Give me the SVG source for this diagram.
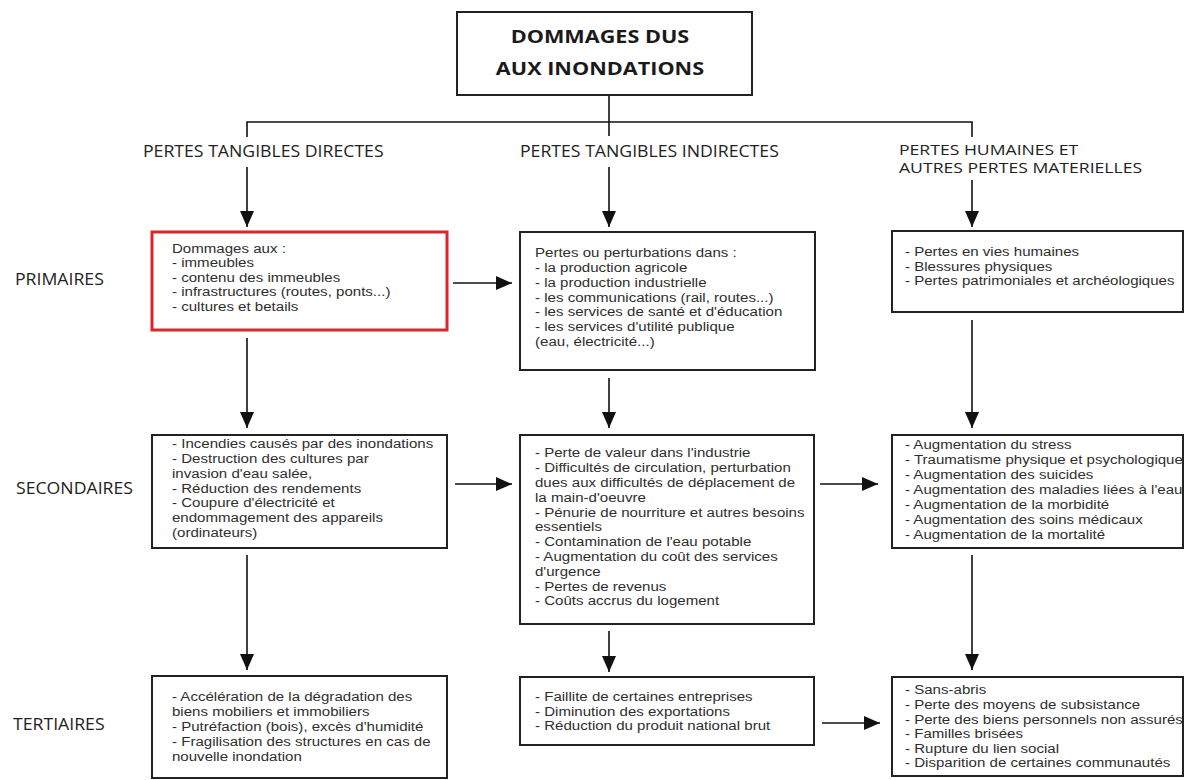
<svg xmlns="http://www.w3.org/2000/svg" width="1187" height="780" viewBox="0 0 1187 780">
<defs>
<style>
.box{fill:#fff;stroke:#222;stroke-width:2}
.red{fill:#fff;stroke:#d8282a;stroke-width:3}
.t{font-family:"Liberation Sans",Arial,sans-serif;font-size:13.1px;fill:#2e2e2e}
.h{font-family:"Open Sans","DejaVu Sans",sans-serif;font-size:15.5px;fill:#222}
.h2{font-family:"Open Sans","DejaVu Sans",sans-serif;font-size:14.8px;fill:#222}
.title{font-family:"Open Sans","DejaVu Sans",sans-serif;font-size:18.5px;font-weight:bold;fill:#1a1a1a}
.c{fill:none;stroke:#111;stroke-width:1.6}
</style>
<marker id="ah" markerUnits="userSpaceOnUse" markerWidth="16" markerHeight="14" refX="16" refY="7" orient="auto">
<path d="M0,0 L16,7 L0,14 z" fill="#111"/>
</marker>
</defs>
<rect width="1187" height="780" fill="#fff"/>

<g id="connectors">
<path class="c" d="M609,95 V136"/>
<path class="c" d="M247,137 V122 H972 V137"/>
<path class="c" d="M247,167 V227" marker-end="url(#ah)"/>
<path class="c" d="M609,167 V227" marker-end="url(#ah)"/>
<path class="c" d="M972,180 V227" marker-end="url(#ah)"/>
<path class="c" d="M453,283 H512" marker-end="url(#ah)"/>
<path class="c" d="M247,338 V428" marker-end="url(#ah)"/>
<path class="c" d="M609,378 V428" marker-end="url(#ah)"/>
<path class="c" d="M972,320 V428" marker-end="url(#ah)"/>
<path class="c" d="M455,484 H512" marker-end="url(#ah)"/>
<path class="c" d="M820,484 H878" marker-end="url(#ah)"/>
<path class="c" d="M247,555 V670" marker-end="url(#ah)"/>
<path class="c" d="M609,631 V672" marker-end="url(#ah)"/>
<path class="c" d="M972,555 V670" marker-end="url(#ah)"/>
<path class="c" d="M822,723 H880" marker-end="url(#ah)"/>
</g>

<g id="title">
<rect class="box" x="457" y="12" width="295" height="83"/>
<g transform="translate(600,0) scale(1.17,1)">
<text class="title" x="0" y="43" text-anchor="middle">DOMMAGES DUS</text>
<text class="title" x="0" y="75.5" text-anchor="middle">AUX INONDATIONS</text>
</g>
</g>

<g id="headers">
<g transform="translate(143,0) scale(1.14,1)"><text class="h" x="0" y="157">PERTES TANGIBLES DIRECTES</text></g>
<g transform="translate(520,0) scale(1.14,1)"><text class="h" x="0" y="157">PERTES TANGIBLES INDIRECTES</text></g>
<g transform="translate(899,0) scale(1.19,1)"><text class="h2" y="155.5"><tspan x="0">PERTES HUMAINES ET</tspan><tspan x="0" dy="18">AUTRES PERTES MATERIELLES</tspan></text></g>
</g>

<g id="row-labels">
<g transform="translate(15,0) scale(1.14,1)"><text class="h" x="0" y="285.5">PRIMAIRES</text></g>
<g transform="translate(16,0) scale(1.14,1)"><text class="h" x="0" y="494.5">SECONDAIRES</text></g>
<g transform="translate(13,0) scale(1.14,1)"><text class="h" x="0" y="730.5">TERTIAIRES</text></g>
</g>

<g id="primary-direct">
<rect class="red" x="152" y="232" width="295" height="98"/>
<g transform="translate(172,0) scale(1.15,1)"><text class="t" y="253">
<tspan x="0">Dommages aux :</tspan>
<tspan x="0" dy="14.5">- immeubles</tspan>
<tspan x="0" dy="14.5">- contenu des immeubles</tspan>
<tspan x="0" dy="14.5">- infrastructures (routes, ponts...)</tspan>
<tspan x="0" dy="14.5">- cultures et betails</tspan>
</text></g>
</g>

<g id="primary-indirect">
<rect class="box" x="520" y="232" width="295" height="138"/>
<g transform="translate(535,0) scale(1.15,1)"><text class="t" y="257.5">
<tspan x="0">Pertes ou perturbations dans :</tspan>
<tspan x="0" dy="14.7">- la production agricole</tspan>
<tspan x="0" dy="14.7">- la production industrielle</tspan>
<tspan x="0" dy="14.7">- les communications (rail, routes...)</tspan>
<tspan x="0" dy="14.7">- les services de santé et d'éducation</tspan>
<tspan x="0" dy="14.7">- les services d'utilité publique</tspan>
<tspan x="0" dy="14.7">(eau, électricité...)</tspan>
</text></g>
</g>

<g id="primary-human">
<rect class="box" x="892" y="231" width="291" height="81"/>
<g transform="translate(905,0) scale(1.15,1)"><text class="t" y="256.5">
<tspan x="0">- Pertes en vies humaines</tspan>
<tspan x="0" dy="14.5">- Blessures physiques</tspan>
<tspan x="0" dy="14.5">- Pertes patrimoniales et archéologiques</tspan>
</text></g>
</g>

<g id="secondary-direct">
<rect class="box" x="152" y="435" width="295" height="113"/>
<g transform="translate(172,0) scale(1.15,1)"><text class="t" y="448.5">
<tspan x="0">- Incendies causés par des inondations</tspan>
<tspan x="0" dy="14.7">- Destruction des cultures par</tspan>
<tspan x="0" dy="14.7">invasion d'eau salée,</tspan>
<tspan x="0" dy="14.7">- Réduction des rendements</tspan>
<tspan x="0" dy="14.7">- Coupure d'électricité et</tspan>
<tspan x="0" dy="14.7">endommagement des appareils</tspan>
<tspan x="0" dy="14.7">(ordinateurs)</tspan>
</text></g>
</g>

<g id="secondary-indirect">
<rect class="box" x="520" y="435" width="294" height="189"/>
<g transform="translate(535,0) scale(1.15,1)"><text class="t" y="457.5">
<tspan x="0">- Perte de valeur dans l'industrie</tspan>
<tspan x="0" dy="14.8">- Difficultés de circulation, perturbation</tspan>
<tspan x="0" dy="14.8">dues aux difficultés de déplacement de</tspan>
<tspan x="0" dy="14.8">la main-d'oeuvre</tspan>
<tspan x="0" dy="14.8">- Pénurie de nourriture et autres besoins</tspan>
<tspan x="0" dy="14.8">essentiels</tspan>
<tspan x="0" dy="14.8">- Contamination de l'eau potable</tspan>
<tspan x="0" dy="14.8">- Augmentation du coût des services</tspan>
<tspan x="0" dy="14.8">d'urgence</tspan>
<tspan x="0" dy="14.8">- Pertes de revenus</tspan>
<tspan x="0" dy="14.8">- Coûts accrus du logement</tspan>
</text></g>
</g>

<g id="secondary-human">
<rect class="box" x="892" y="435" width="291" height="113"/>
<g transform="translate(905,0) scale(1.15,1)"><text class="t" y="449.5">
<tspan x="0">- Augmentation du stress</tspan>
<tspan x="0" dy="15">- Traumatisme physique et psychologique</tspan>
<tspan x="0" dy="15">- Augmentation des suicides</tspan>
<tspan x="0" dy="15">- Augmentation des maladies liées à l'eau</tspan>
<tspan x="0" dy="15">- Augmentation de la morbidité</tspan>
<tspan x="0" dy="15">- Augmentation des soins médicaux</tspan>
<tspan x="0" dy="15">- Augmentation de la mortalité</tspan>
</text></g>
</g>

<g id="tertiary-direct">
<rect class="box" x="152" y="676" width="295" height="102"/>
<g transform="translate(172,0) scale(1.15,1)"><text class="t" y="701.5">
<tspan x="0">- Accélération de la dégradation des</tspan>
<tspan x="0" dy="15">biens mobiliers et immobiliers</tspan>
<tspan x="0" dy="15">- Putréfaction (bois), excès d'humidité</tspan>
<tspan x="0" dy="15">- Fragilisation des structures en cas de</tspan>
<tspan x="0" dy="15">nouvelle inondation</tspan>
</text></g>
</g>

<g id="tertiary-indirect">
<rect class="box" x="520" y="677" width="294" height="68"/>
<g transform="translate(535,0) scale(1.15,1)"><text class="t" y="701.5">
<tspan x="0">- Faillite de certaines entreprises</tspan>
<tspan x="0" dy="14.5">- Diminution des exportations</tspan>
<tspan x="0" dy="14.5">- Réduction du produit national brut</tspan>
</text></g>
</g>

<g id="tertiary-human">
<rect class="box" x="892" y="677" width="291" height="99"/>
<g transform="translate(905,0) scale(1.15,1)"><text class="t" y="694.5">
<tspan x="0">- Sans-abris</tspan>
<tspan x="0" dy="14.6">- Perte des moyens de subsistance</tspan>
<tspan x="0" dy="14.6">- Perte des biens personnels non assurés</tspan>
<tspan x="0" dy="14.6">- Familles brisées</tspan>
<tspan x="0" dy="14.6">- Rupture du lien social</tspan>
<tspan x="0" dy="14.6">- Disparition de certaines communautés</tspan>
</text></g>
</g>
</svg>
